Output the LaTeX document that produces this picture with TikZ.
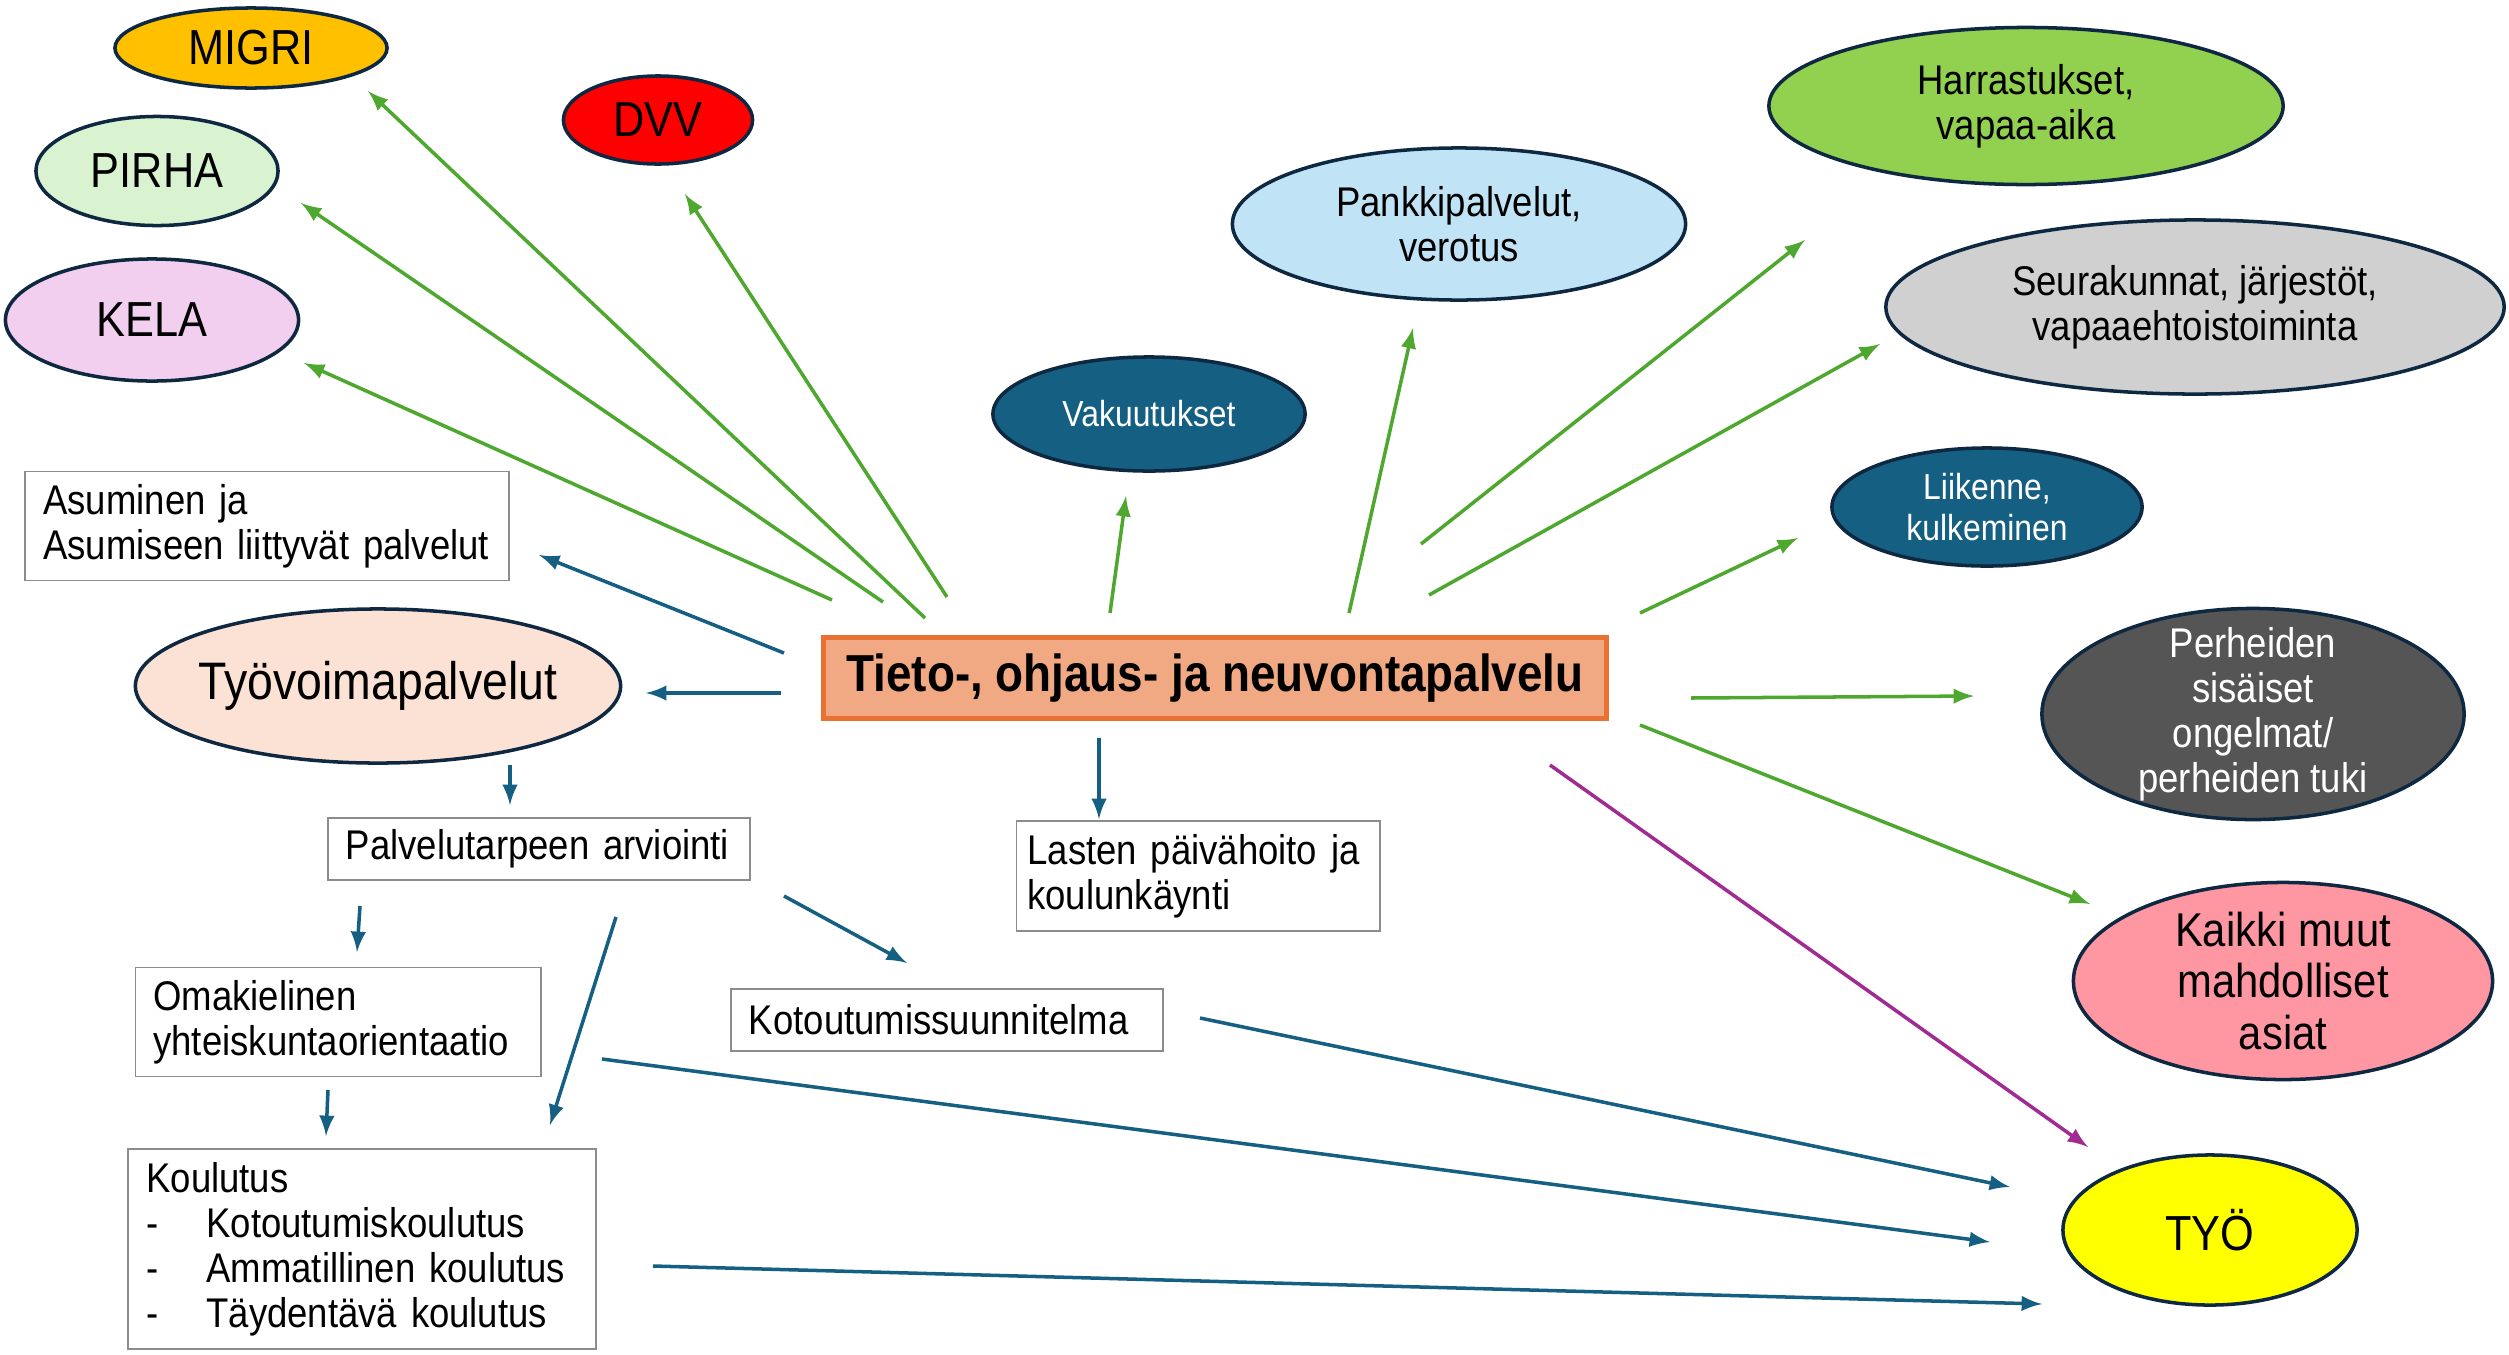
\documentclass[tikz,border=0pt]{standalone}
\usepackage{fontspec}
\setmainfont{Liberation Sans}[FakeStretch=0.88]
\usetikzlibrary{shapes.geometric}

\definecolor{arrgreen}{HTML}{4EA72E}
\definecolor{arrblue}{HTML}{156082}
\definecolor{arrpurple}{HTML}{A02B93}
\definecolor{ovalline}{HTML}{0E2841}
\definecolor{boxline}{HTML}{8C8C8C}
\definecolor{migricol}{HTML}{FFC000}
\definecolor{dvvcol}{HTML}{FF0000}
\definecolor{pirhacol}{HTML}{D9F2D0}
\definecolor{kelacol}{HTML}{F2CEEF}
\definecolor{darkblue}{HTML}{156082}
\definecolor{pankkicol}{HTML}{C0E4F5}
\definecolor{harrcol}{HTML}{92D050}
\definecolor{seurcol}{HTML}{D0D0D0}
\definecolor{perhcol}{HTML}{555555}
\definecolor{muutcol}{HTML}{FF97A3}
\definecolor{tyocol}{HTML}{FFFF00}
\definecolor{hubfill}{HTML}{F1A983}
\definecolor{hubline}{HTML}{E97132}
\definecolor{tvpcol}{HTML}{FBE2D5}

\newcommand\bigtxt{\fontsize{14}{17}\selectfont}
\newcommand\midtxt{\fontsize{11.8}{12.8}\selectfont}
\newcommand\smalltxt{\fontsize{10.3}{11.6}\selectfont}

\tikzset{
  oval/.style={ellipse, draw=ovalline, line width=1pt, inner sep=0pt, align=center},
  box/.style={rectangle, draw=boxline, line width=0.5pt, inner xsep=0.18cm, align=left, font=\midtxt},
  garrow/.style={-latex, draw=arrgreen, line width=1pt},
  barrow/.style={-latex, draw=arrblue, line width=1pt},
  parrow/.style={-latex, draw=arrpurple, line width=1pt}
}

\begin{document}
\begin{tikzpicture}[x=0.01cm, y=-0.01cm]
\useasboundingbox (0,0) rectangle (2509,1354);
%%%%%%%%%%%%%
\node[oval, fill=migricol, minimum width=2.72cm, minimum height=0.8cm, font=\bigtxt] (migri) at (251,48) {MIGRI};
\node[oval, fill=dvvcol, minimum width=1.89cm, minimum height=0.88cm, font=\bigtxt] (dvv) at (658,120) {DVV};
\node[oval, fill=pirhacol, minimum width=2.42cm, minimum height=1.09cm, font=\bigtxt] (pirha) at (157,171) {PIRHA};
\node[oval, fill=kelacol, minimum width=2.93cm, minimum height=1.22cm, font=\bigtxt] (kela) at (152,320) {KELA};
\node[oval, fill=darkblue, text=white, minimum width=3.12cm, minimum height=1.14cm, font=\smalltxt] (vak) at (1149,414) {Vakuutukset};
\node[oval, fill=pankkicol, minimum width=4.53cm, minimum height=1.52cm, font=\midtxt] (pankki) at (1459,224) {Pankkipalvelut,\\verotus};
\node[oval, fill=harrcol, minimum width=5.14cm, minimum height=1.57cm, font=\midtxt] (harr) at (2026,106) {Harrastukset,\\vapaa-aika};
\node[oval, fill=seurcol, minimum width=6.18cm, minimum height=1.74cm, font=\midtxt] (seur) at (2195,307) {Seurakunnat, järjestöt,\\vapaaehtoistoiminta};
\node[oval, fill=darkblue, text=white, minimum width=3.10cm, minimum height=1.18cm, font=\smalltxt] (liik) at (1987,507) {Liikenne,\\kulkeminen};
\node[oval, fill=perhcol, text=white, inner ysep=-0.3cm, minimum width=4.22cm, minimum height=2.11cm, font=\midtxt] (perh) at (2253,714) {Perheiden\\sisäiset\\ongelmat/\\perheiden tuki};
\node[oval, fill=muutcol, inner ysep=-0.1cm, minimum width=4.19cm, minimum height=1.97cm, font=\fontsize{13.5}{14.6}\selectfont] (muut) at (2283,981) {Kaikki muut\\mahdolliset\\asiat};
\node[oval, fill=tyocol, minimum width=2.94cm, minimum height=1.50cm, font=\bigtxt] (tyo) at (2210,1230) {TYÖ};
%%%%%%%%%%%%%
\node[rectangle, draw=hubline, fill=hubfill, line width=1.3pt, minimum width=7.82cm, minimum height=0.81cm, font=\fontsize{14.8}{16}\selectfont\bfseries] (hub) at (1215,678) {Tieto-, ohjaus- ja neuvontapalvelu};
\node[oval, fill=tvpcol, inner xsep=-0.4cm, minimum width=4.85cm, minimum height=1.54cm, font=\fontsize{15}{17}\selectfont] (tvp) at (378,686) {Työvoimapalvelut};
\node[box, text width=4.47cm, minimum height=1.09cm] (asum) at (267,526) {Asuminen ja\\Asumiseen liittyvät palvelut};
\node[box, text width=3.86cm, minimum height=0.59cm] (palv) at (539,849) {Palvelutarpeen arviointi};
\node[box, inner xsep=0.11cm, text width=3.41cm, minimum height=1.10cm] (lasten) at (1198,876) {Lasten päivähoito ja\\koulunkäynti};
\node[box, text width=3.69cm, minimum height=1.09cm] (omak) at (338,1022) {Omakielinen\\yhteiskuntaorientaatio};
\node[box, text width=3.96cm, minimum height=0.62cm] (kotsu) at (947,1020) {Kotoutumissuunnitelma};
\node[box, text width=4.31cm, minimum height=2.00cm] (koul) at (362,1249) {Koulutus\\
\makebox[0.6cm][l]{-}Kotoutumiskoulutus\\
\makebox[0.6cm][l]{-}Ammatillinen koulutus\\
\makebox[0.6cm][l]{-}Täydentävä koulutus};
%%%%%%%%%%%%%
\draw[garrow] ([shift={(-383,-78)}]hub.center) -- ([shift={(152,43)}]kela.center);
\draw[garrow] ([shift={(-332,-76)}]hub.center) -- ([shift={(144,32)}]pirha.center);
\draw[garrow] ([shift={(-290,-60)}]hub.center) -- ([shift={(117,43)}]migri.center);
\draw[garrow] ([shift={(-268,-81)}]hub.center) -- ([shift={(27,74)}]dvv.center);
\draw[garrow] ([shift={(-105,-65)}]hub.center) -- ([shift={(-23,82)}]vak.center);
\draw[garrow] ([shift={(134,-65)}]hub.center) -- ([shift={(-46,104)}]pankki.center);
\draw[garrow] ([shift={(206,-134)}]hub.center) -- ([shift={(-221,134)}]harr.center);
\draw[garrow] ([shift={(214,-83)}]hub.center) -- ([shift={(-315,37)}]seur.center);
\draw[garrow] ([shift={(425,-65)}]hub.center) -- ([shift={(-189,31)}]liik.center);
\draw[garrow] ([shift={(476,20)}]hub.center) -- ([shift={(-279,-18)}]perh.center);
\draw[garrow] ([shift={(425,47)}]hub.center) -- ([shift={(-193,-77)}]muut.center);
\draw[parrow] ([shift={(335,87)}]hub.center) -- ([shift={(-122,-83)}]tyo.center);
%%%%%%%%%%%%%
\draw[barrow] ([shift={(-431,-25)}]hub.center) -- ([shift={(272,29)}]asum.center);
\draw[barrow] ([shift={(-434,15)}]hub.center) -- ([shift={(268,7)}]tvp.center);
\draw[barrow] ([shift={(-116,60)}]hub.center) -- ([shift={(-99,-57)}]lasten.center);
\draw[barrow] ([shift={(132,79)}]tvp.center) -- ([shift={(-29,-44)}]palv.center);
\draw[barrow] ([shift={(-179,57)}]palv.center) -- ([shift={(19,-70)}]omak.center);
\draw[barrow] ([shift={(77,68)}]palv.center) -- ([shift={(188,-124)}]koul.center);
\draw[barrow] ([shift={(245,47)}]palv.center) -- ([shift={(-40,-57)}]kotsu.center);
\draw[barrow] ([shift={(-10,68)}]omak.center) -- ([shift={(-36,-113)}]koul.center);
\draw[barrow] ([shift={(253,-2)}]kotsu.center) -- ([shift={(-200,-43)}]tyo.center);
\draw[barrow] ([shift={(264,37)}]omak.center) -- ([shift={(-220,12)}]tyo.center);
\draw[barrow] ([shift={(291,17)}]koul.center) -- ([shift={(-168,74)}]tyo.center);
\end{tikzpicture}
\end{document}
